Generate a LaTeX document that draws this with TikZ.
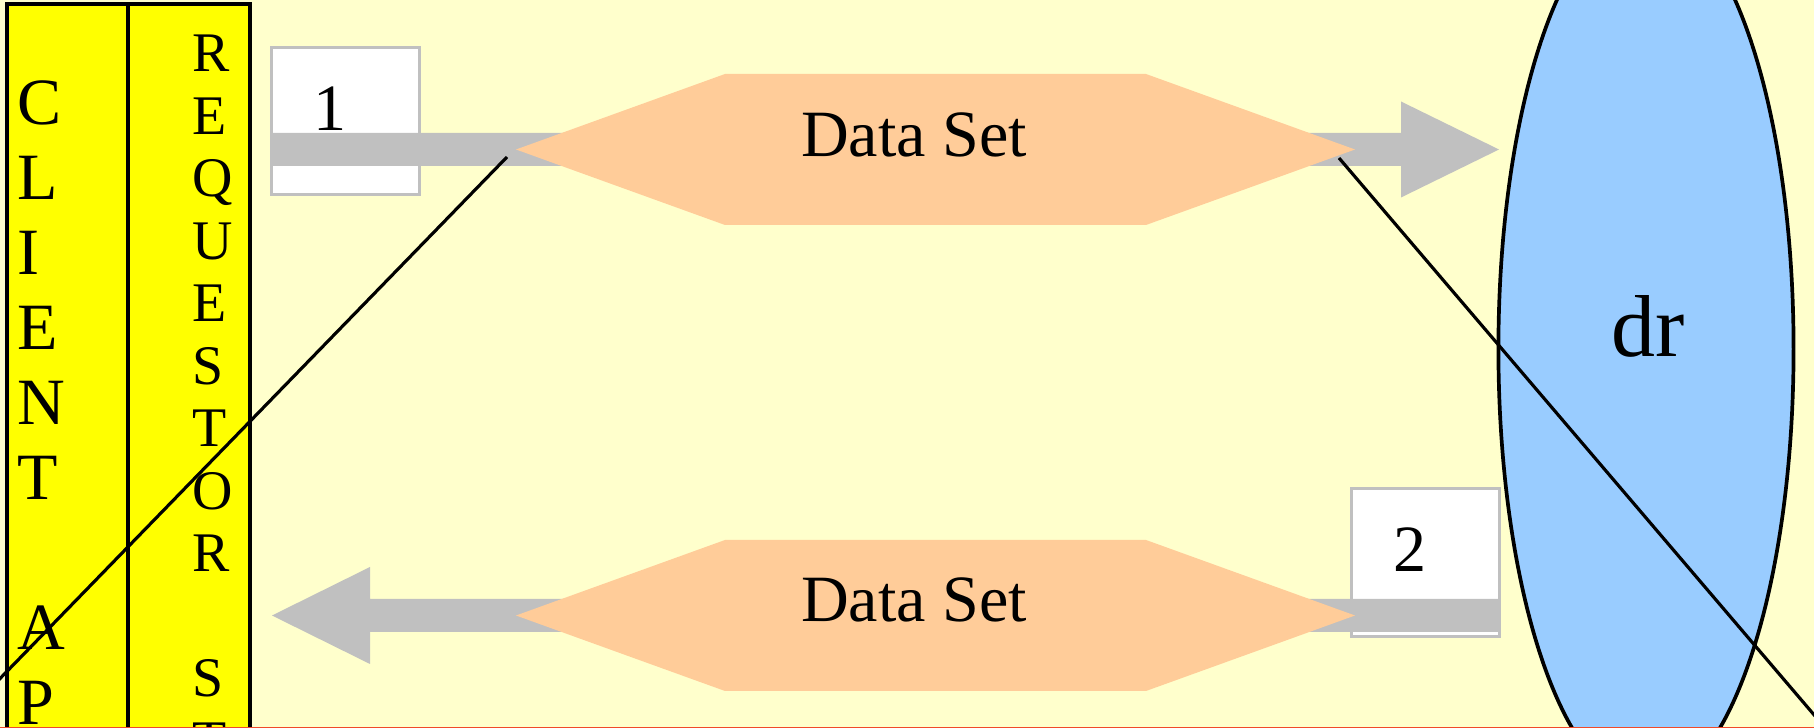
\documentclass[tikz,border=0pt]{standalone}
\usepackage{fontspec}
\setmainfont{Liberation Serif}
\usetikzlibrary{shapes.geometric}
\definecolor{slidebg}{HTML}{FFFFCC}
\definecolor{colyellow}{HTML}{FFFF00}
\definecolor{hexorange}{HTML}{FFCC99}
\definecolor{storeblue}{HTML}{99CCFF}
\definecolor{flowgray}{HTML}{C0C0C0}
\definecolor{edgered}{HTML}{F04A2A}

\begin{document}
\begin{tikzpicture}[x=0.01cm,y=-0.01cm]
  \tikzstyle{column}=[draw=black,line width=1pt,fill=colyellow]
  \tikzstyle{clientchar}=[anchor=base west,inner sep=0pt,font=\fontsize{18.8}{21}\selectfont]
  \tikzstyle{reqchar}=[anchor=base west,inner sep=0pt,font=\fontsize{15.9}{18}\selectfont]
  \tikzstyle{numbox}=[draw=flowgray,line width=0.95pt,fill=white]
  \tikzstyle{flow}=[fill=flowgray]
  \tikzstyle{dataset}=[fill=hexorange]
  \tikzstyle{bigtext}=[anchor=base,inner sep=0pt,font=\fontsize{18.8}{21}\selectfont]
  \tikzstyle{store}=[ellipse,draw=black,line width=1.05pt,fill=storeblue,minimum width=2.95cm,minimum height=8.75cm,inner sep=0pt]
  \tikzstyle{link}=[draw=black,line width=0.9pt]

  \useasboundingbox (0,0) rectangle (1814,728);
  \clip (0,0) rectangle (1814,728);
  \fill[slidebg] (0,0) rectangle (1814,728);

  % client / requestor column
  \draw[column] (7,4) rectangle (250,780);
  \draw[column] (128,4) -- (128,780);

  \node[clientchar] (C_0) at (17,125) {C};
  \node[clientchar] (C_1) at (17,200) {L};
  \node[clientchar] (C_2) at (17,275) {I};
  \node[clientchar] (C_3) at (17,350) {E};
  \node[clientchar] (C_4) at (17,425) {N};
  \node[clientchar] (C_5) at (17,500) {T};
  \node[clientchar] (C_7) at (17,650) {A};
  \node[clientchar] (C_8) at (17,725) {P};

  \node[reqchar] (R_0) at (192,72) {R};
  \node[reqchar] (R_1) at (192,134.5) {E};
  \node[reqchar] (R_2) at (192,197) {Q};
  \node[reqchar] (R_3) at (192,259.5) {U};
  \node[reqchar] (R_4) at (192,322) {E};
  \node[reqchar] (R_5) at (192,384.5) {S};
  \node[reqchar] (R_6) at (192,447) {T};
  \node[reqchar] (R_7) at (192,509.5) {O};
  \node[reqchar] (R_8) at (192,572) {R};
  \node[reqchar] (R_10) at (192,697) {S};
  \node[reqchar] (R_11) at (192,759.5) {T};

  % numbered boxes
  \draw[numbox] (271.5,47.5) rectangle (419.5,194.5);
  \draw[numbox] (1351.5,488.5) rectangle (1499.5,636.5);

  % request flow
  \fill[flow] (270,133) -- (1401,133) -- (1401,101.5) -- (1499,149.5)
    -- (1401,197.5) -- (1401,166) -- (270,166) -- cycle;
  % reply flow
  \fill[flow] (1500,599) -- (370,599) -- (370,567) -- (272,615.5)
    -- (370,664) -- (370,632) -- (1500,632) -- cycle;

  \fill[dataset] (516,149.5) -- (725,74) -- (1146,74) -- (1355,149.5)
    -- (1146,225) -- (725,225) -- cycle;
  \fill[dataset] (516,615.5) -- (725,540) -- (1146,540) -- (1355,615.5)
    -- (1146,691) -- (725,691) -- cycle;

  \node[bigtext] (DS_1) at (914,157) {Data Set};
  \node[bigtext] (DS_2) at (914,622) {Data Set};
  \node[bigtext] (N_1) at (330,131) {1};
  \node[bigtext] (N_2) at (1410,572) {2};

  % data store
  \node[store] (DR) at (1646,349) {};
  \node[anchor=base,inner sep=0pt,font=\fontsize{25}{28}\selectfont] (DR_label) at (1648,357) {dr};

  \coordinate (L_1a) at (507,157);
  \coordinate (L_1b) at (-50,730);
  \coordinate (L_2a) at (1339,158);
  \coordinate (L_2b) at (1850,757);
  \draw[link] (L_1a) -- (L_1b);
  \draw[link] (L_2a) -- (L_2b);

  \coordinate (E_a) at (0,727.4);
  \coordinate (E_b) at (1814,727.4);
  \draw[edgered,line width=0.35pt] (E_a) -- (E_b);
\end{tikzpicture}
\end{document}
